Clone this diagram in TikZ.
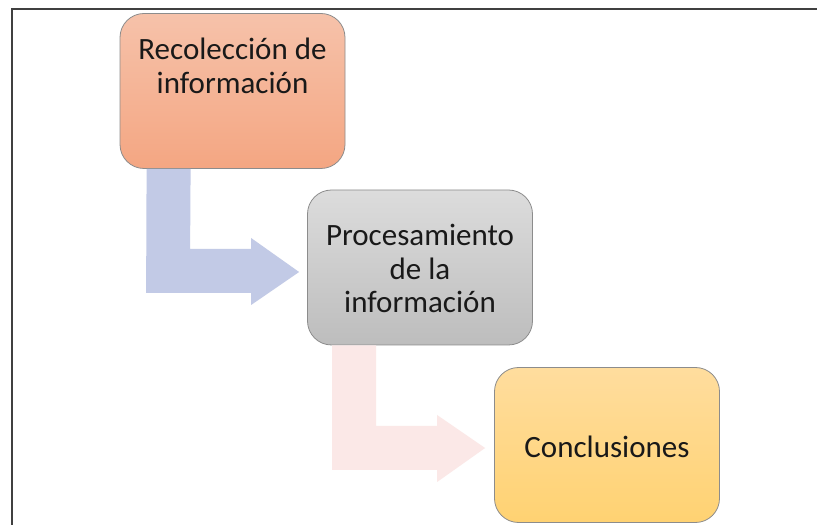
\documentclass[tikz,border=0pt]{standalone}
\usepackage{fontspec}
\setmainfont{Carlito}
\usetikzlibrary{calc}
\definecolor{frameC}{HTML}{404040}
\definecolor{boxline}{HTML}{8C8C8C}
\definecolor{oTop}{HTML}{F6C2AA}
\definecolor{oBot}{HTML}{F4A682}
\definecolor{gTop}{HTML}{DCDCDC}
\definecolor{gBot}{HTML}{BDBDBD}
\definecolor{yTop}{HTML}{FFDD9E}
\definecolor{yBot}{HTML}{FFD272}
\definecolor{blueArr}{HTML}{C2CAE6}
\definecolor{pinkArr}{HTML}{FBE8E7}
\tikzset{
  stepbox/.style={draw=boxline, line width=0.8pt, rounded corners=24pt,
    minimum width=225pt, minimum height=155pt, inner sep=0pt},
  boxtext/.style={font=\fontsize{31}{33.5}\selectfont, align=center, text=black!90, inner sep=0pt},
}
\begin{document}
\begin{tikzpicture}[x=1pt,y=1pt]
\useasboundingbox (0,0) rectangle (817,525);
\fill[white] (0,0) rectangle (817,525);
% frame (top and left only visible)
\draw[frameC, line width=2pt] (11.5,0) -- (11.5,515.5) -- (817,515.5);
% boxes
\node[stepbox, top color=oTop, bottom color=oBot] (b1) at (232.5,434) {};
\node[stepbox, top color=gTop, bottom color=gBot] (b2) at (420,257.5) {};
\node[stepbox, top color=yTop, bottom color=yBot] (b3) at (607,80) {};
% arrows
\fill[blueArr]
  ($(b1.south west)+(27,0)$) -- ($(b1.south west)+(71,0)$)
  -- ($(b2.west)+(-117,18.5)$) -- ($(b2.west)+(-56,18.5)$)
  -- ($(b2.west)+(-56,29.5)$) -- ($(b2.west)+(-8,-4.5)$)
  -- ($(b2.west)+(-56,-37.5)$) -- ($(b2.west)+(-56,-25.5)$)
  -- ($(b2.west)+(-161,-25.5)$) -- cycle;
\fill[pinkArr]
  ($(b2.south west)+(25,0)$) -- ($(b2.south west)+(69,0)$)
  -- ($(b3.west)+(-118,19)$) -- ($(b3.west)+(-57,19)$)
  -- ($(b3.west)+(-57,30)$) -- ($(b3.west)+(-9,-3)$)
  -- ($(b3.west)+(-57,-37)$) -- ($(b3.west)+(-57,-25)$)
  -- ($(b3.west)+(-162,-25)$) -- cycle;
% texts
\node[boxtext, anchor=center] (t1) at ($(b1.north)+(0,-53)$) {Recolección de\\información};
\node[boxtext] (t2) at ($(b2.center)+(0,-1)$) {Procesamiento\\de la\\información};
\node[boxtext] (t3) at ($(b3.center)+(0,-2)$) {Conclusiones};
\end{tikzpicture}
\end{document}
